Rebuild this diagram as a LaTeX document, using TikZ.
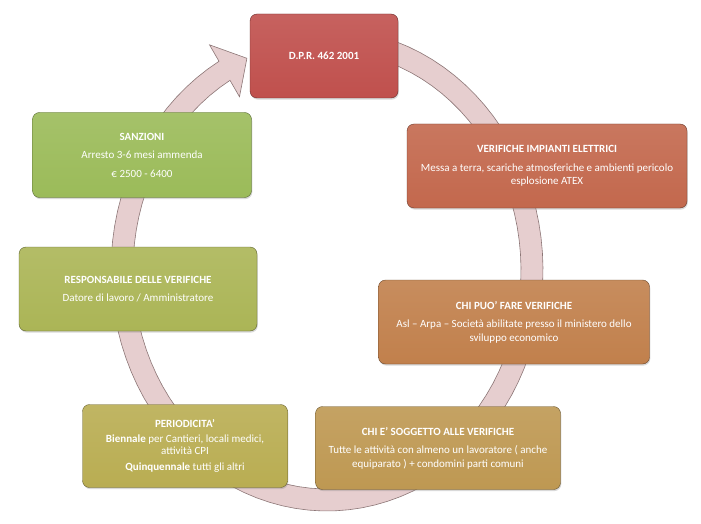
\documentclass[tikz,border=0pt]{standalone}
\usepackage{fontspec}
\setmainfont{Carlito}
\usetikzlibrary{shadows}

\definecolor{dprred}{RGB}{192,80,77}
\definecolor{impred}{RGB}{195,104,77}
\definecolor{puoorange}{RGB}{193,128,76}
\definecolor{soggochre}{RGB}{190,152,82}
\definecolor{perolive}{RGB}{185,173,82}
\definecolor{resgreen}{RGB}{171,181,86}
\definecolor{sanzgreen}{RGB}{155,187,89}
\definecolor{ringfill}{RGB}{230,206,207}
\definecolor{ringline}{RGB}{140,118,118}

\begin{document}
\begin{tikzpicture}[x=1pt,y=1pt,
    fase/.style={draw=#1!55!black, rounded corners=7pt, top color=#1!90!white,
      bottom color=#1, text=white, align=center, inner sep=2pt,
      font=\fontsize{11}{13.5}\selectfont,
      drop shadow={opacity=0.3,shadow xshift=0.8pt,shadow yshift=-1.6pt}}]
        \useasboundingbox (0,0) rectangle (701,-524);
        % ring arrow, clockwise, head pointing at the D.P.R. box
        \filldraw [fill=ringfill, draw=ringline, line width=0.6pt]
          plot[domain=75:-240,samples=90] ({327+216*cos(\x)},{-270+241*sin(\x)})
          -- ({327+235*cos(-240)},{-270+260*sin(-240)})
          -- ({327+205*cos(-247)},{-270+230*sin(-247)})
          -- ({327+175*cos(-240)},{-270+200*sin(-240)})
          -- plot[domain=-240:75,samples=90] ({327+194*cos(\x)},{-270+219*sin(\x)})
          -- cycle;
        % boxes
        \node [fase=dprred, minimum width=148pt, minimum height=84pt] (dpr) at (324,-56)
          {\textbf{D.P.R. 462 2001}};
        \node [fase=impred, minimum width=280pt, minimum height=84pt] (imp) at (547,-166)
          {\textbf{VERIFICHE IMPIANTI ELETTRICI}\\[5pt]
           Messa a terra, scariche atmosferiche e ambienti pericolo\\ esplosione ATEX};
        \node [fase=puoorange, minimum width=271pt, minimum height=84pt] (puo) at (514,-322)
          {\textbf{CHI PUO’ FARE VERIFICHE}\\[5pt]
           Asl -- Arpa -- Società abilitate presso il ministero dello\\ sviluppo economico};
        \node [fase=soggochre, minimum width=245pt, minimum height=83pt] (sogg) at (438,-448)
          {\textbf{CHI E’ SOGGETTO ALLE VERIFICHE}\\[5pt]
           Tutte le attività con almeno un lavoratore ( anche\\ equiparato ) + condomini parti comuni};
        \node [fase=perolive, minimum width=205pt, minimum height=83pt] (per) at (185,-446)
          {\textbf{PERIODICITA’}\\[1.5pt]
           \textbf{Biennale} per Cantieri, locali medici,\\[-1.5pt] attività CPI\\[3pt]
           \textbf{Quinquennale} tutti gli altri};
        \node [fase=resgreen, minimum width=238pt, minimum height=84pt] (resp) at (138,-289)
          {\textbf{RESPONSABILE DELLE VERIFICHE}\\[5pt]
           Datore di lavoro / Amministratore};
        \node [fase=sanzgreen, minimum width=219pt, minimum height=85pt] (sanz) at (142,-155)
          {\textbf{SANZIONI}\\[5pt] Arresto 3-6 mesi ammenda\\[5pt] € 2500 - 6400};
\end{tikzpicture}
\end{document}
